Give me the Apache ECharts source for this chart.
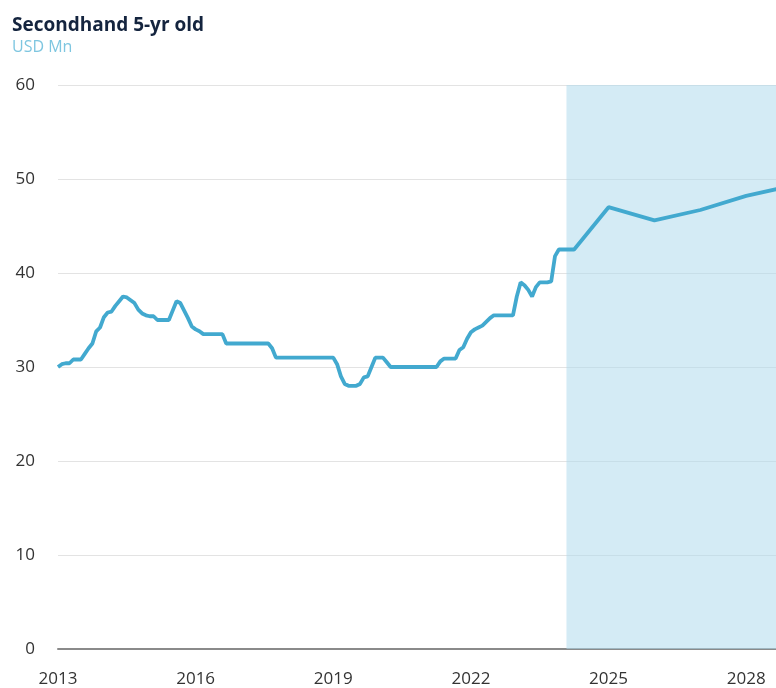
<!DOCTYPE html>
<html>
<head>
<meta charset="utf-8">
<script src="https://cdn.jsdelivr.net/npm/echarts@6/dist/echarts.min.js"></script>
<style>
html,body{margin:0;padding:0;background:#fff;}
#chart{width:776px;height:688px;}
</style>
</head>
<body>
<div id="chart"></div>
<script>
// Monthly history, Jan 2013 .. Apr 2024 (USD Mn)
const historyStartYear = 2013;
const monthlyValues = [
  // 2013
  30.0, 30.3, 30.4, 30.4, 30.8, 30.8, 30.8, 31.4, 32.0, 32.5, 33.8, 34.2,
  // 2014
  35.3, 35.8, 35.9, 36.5, 37.0, 37.5, 37.4, 37.1, 36.8, 36.1, 35.7, 35.5,
  // 2015
  35.4, 35.4, 35.0, 35.0, 35.0, 35.0, 36.0, 37.0, 36.8, 36.0, 35.2, 34.3,
  // 2016
  34.0, 33.8, 33.5, 33.5, 33.5, 33.5, 33.5, 33.5, 32.5, 32.5, 32.5, 32.5,
  // 2017
  32.5, 32.5, 32.5, 32.5, 32.5, 32.5, 32.5, 32.5, 32.0, 31.0, 31.0, 31.0,
  // 2018
  31.0, 31.0, 31.0, 31.0, 31.0, 31.0, 31.0, 31.0, 31.0, 31.0, 31.0, 31.0,
  // 2019
  31.0, 30.3, 29.0, 28.2, 28.0, 28.0, 28.0, 28.2, 28.9, 29.0, 30.0, 31.0,
  // 2020
  31.0, 31.0, 30.5, 30.0, 30.0, 30.0, 30.0, 30.0, 30.0, 30.0, 30.0, 30.0,
  // 2021
  30.0, 30.0, 30.0, 30.0, 30.6, 30.9, 30.9, 30.9, 30.9, 31.8, 32.1, 33.0,
  // 2022
  33.7, 34.0, 34.2, 34.4, 34.8, 35.2, 35.5, 35.5, 35.5, 35.5, 35.5, 35.5,
  // 2023
  37.5, 39.0, 38.7, 38.2, 37.5, 38.5, 39.0, 39.0, 39.0, 39.1, 41.8, 42.5,
  // 2024
  42.5, 42.5, 42.5, 42.5
];
// Annual forecast points
const forecastYears = [2025, 2026, 2027, 2028, 2029];
const forecastValues = [47.0, 45.6, 46.7, 48.2, 49.3];

const forecastShadeStart = 2024.083;
const xMin = 2013, xMax = 2028.65, xStep = 3;
const yTicks = [0, 10, 20, 30, 40, 50, 60];

const seriesData = monthlyValues.map((v, i) => [historyStartYear + i / 12, v])
  .concat(forecastYears.map((y, i) => [y, forecastValues[i]]));

const chart = echarts.init(document.getElementById('chart'), null, {renderer: 'canvas'});
chart.setOption({
  animation: false,
  backgroundColor: '#ffffff',
  title: {
    text: 'Secondhand 5-yr old',
    subtext: 'USD Mn',
    left: 7,
    top: 11,
    itemGap: 4,
    textStyle: {fontFamily: 'Open Sans', fontSize: 19, fontWeight: 'bold', color: '#14243e'},
    subtextStyle: {fontFamily: 'Open Sans', fontSize: 16, color: '#7ec6e0'}
  },
  grid: {left: 58, right: 0, top: 85, bottom: 39, containLabel: false},
  xAxis: {
    type: 'value',
    min: xMin,
    max: xMax,
    interval: xStep,
    axisLine: {show: true, lineStyle: {color: '#8a8a8a', width: 2}},
    axisTick: {show: false},
    splitLine: {show: false},
    axisLabel: {
      showMaxLabel: false,
      margin: 22,
      fontFamily: 'Open Sans', fontSize: 17, color: '#333',
      formatter: v => Number.isInteger(v) ? String(v) : ''
    }
  },
  yAxis: {
    type: 'value',
    min: yTicks[0],
    max: yTicks[yTicks.length - 1],
    interval: 10,
    axisLine: {show: false},
    axisTick: {show: false},
    splitLine: {lineStyle: {color: '#e3e3e3', width: 1}},
    axisLabel: {margin: 23, fontFamily: 'Open Sans', fontSize: 17, color: '#333'}
  },
  series: [{
    type: 'line',
    data: seriesData,
    showSymbol: false,
    symbol: 'none',
    clip: true,
    lineStyle: {color: '#42a9cf', width: 3.8},
    z: 3,
    markArea: {
      silent: true,
      itemStyle: {color: 'rgba(176,218,236,0.55)'},
      data: [[{xAxis: forecastShadeStart}, {xAxis: xMax}]]
    }
  }]
});
</script>
</body>
</html>
